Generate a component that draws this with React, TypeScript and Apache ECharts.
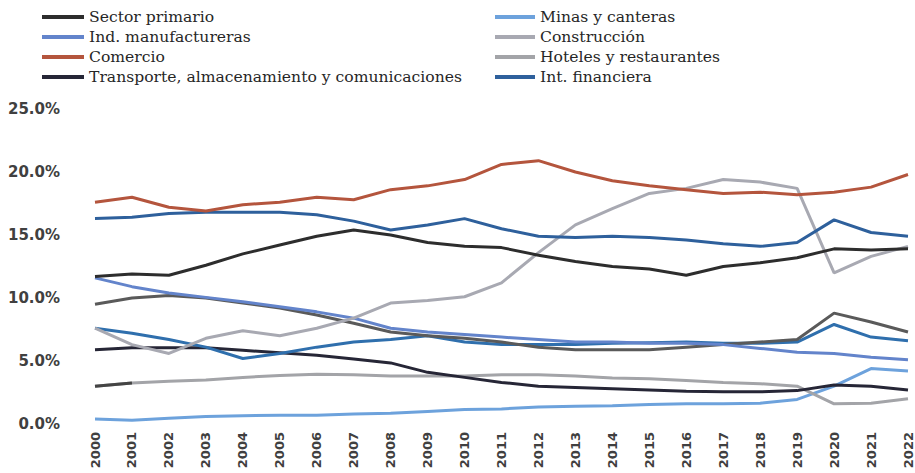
import React, { useEffect, useRef } from 'react';
import * as echarts from 'echarts';

const years = ['2000', '2001', '2002', '2003', '2004', '2005', '2006', '2007', '2008', '2009', '2010', '2011', '2012', '2013', '2014', '2015', '2016', '2017', '2018', '2019', '2020', '2021', '2022'];

const sectorPrimario = [11.7, 11.9, 11.8, 12.6, 13.5, 14.2, 14.9, 15.4, 15.0, 14.4, 14.1, 14.0, 13.4, 12.9, 12.5, 12.3, 11.8, 12.5, 12.8, 13.2, 13.9, 13.8, 13.9];
const minasCanteras = [0.4, 0.3, 0.45, 0.6, 0.65, 0.7, 0.7, 0.8, 0.85, 1.0, 1.15, 1.2, 1.35, 1.4, 1.45, 1.55, 1.6, 1.6, 1.65, 1.95, 3.0, 4.4, 4.2];
const indManufactureras = [11.6, 10.9, 10.4, 10.05, 9.7, 9.3, 8.9, 8.4, 7.6, 7.3, 7.1, 6.9, 6.7, 6.5, 6.5, 6.4, 6.4, 6.3, 6.0, 5.7, 5.6, 5.3, 5.1];
const construccion = [7.6, 6.3, 5.6, 6.8, 7.4, 7.0, 7.6, 8.4, 9.6, 9.8, 10.1, 11.2, 13.6, 15.8, 17.1, 18.3, 18.7, 19.4, 19.2, 18.7, 12.0, 13.3, 14.1];
const comercio = [17.6, 18.0, 17.2, 16.9, 17.4, 17.6, 18.0, 17.8, 18.6, 18.9, 19.4, 20.6, 20.9, 20.0, 19.3, 18.9, 18.6, 18.3, 18.4, 18.2, 18.4, 18.8, 19.8];
const hoteles = [3.0, 3.25, 3.4, 3.5, 3.7, 3.85, 3.95, 3.9, 3.8, 3.8, 3.8, 3.9, 3.9, 3.8, 3.65, 3.6, 3.45, 3.3, 3.2, 3.0, 1.6, 1.65, 2.0];
const hotelesInicio = [3.0, 3.25, null, null, null, null, null, null, null, null, null, null, null, null, null, null, null, null, null, null, null, null, null];
const transporte = [5.9, 6.05, 6.05, 6.05, 5.85, 5.65, 5.45, 5.15, 4.85, 4.1, 3.7, 3.3, 3.0, 2.9, 2.8, 2.7, 2.6, 2.55, 2.55, 2.65, 3.1, 3.0, 2.7];
const intFinanciera = [16.3, 16.4, 16.7, 16.8, 16.8, 16.8, 16.6, 16.1, 15.4, 15.8, 16.3, 15.5, 14.9, 14.8, 14.9, 14.8, 14.6, 14.3, 14.1, 14.4, 16.2, 15.2, 14.9];
const serieGris = [9.5, 10.0, 10.2, 10.0, 9.6, 9.2, 8.65, 8.0, 7.3, 7.0, 6.8, 6.5, 6.1, 5.9, 5.9, 5.9, 6.1, 6.3, 6.5, 6.7, 8.8, 8.1, 7.3];
const serieAzul = [7.6, 7.2, 6.7, 6.1, 5.2, 5.6, 6.1, 6.5, 6.7, 7.0, 6.5, 6.3, 6.3, 6.3, 6.4, 6.45, 6.5, 6.4, 6.4, 6.5, 7.9, 6.9, 6.6];

const legendLeft = ['Sector primario', 'Ind. manufactureras', 'Comercio', 'Transporte, almacenamiento y comunicaciones'];
const legendRight = ['Minas y canteras', 'Construcción', 'Hoteles y restaurantes', 'Int. financiera'];

const yTicks = [0, 5, 10, 15, 20, 25];

export default function App() {
  const ref = useRef<HTMLDivElement>(null);
  useEffect(() => {
    document.body.style.margin = '0';
    const chart = echarts.init(ref.current!, null, { renderer: 'svg' });
    const line = (name: string, data: (number | null)[], color: string, z = 2) => ({
      name,
      type: 'line',
      data,
      symbol: 'none',
      showSymbol: false,
      z,
      lineStyle: { color, width: 3 },
      itemStyle: { color },
    });
    const legendText = {
      fontFamily: 'DejaVu Serif',
      fontSize: 15.6,
      color: '#262626',
      lineHeight: 20,
    };
    chart.setOption({
      animation: false,
      backgroundColor: '#fff',
      legend: [
        {
          data: legendLeft,
          orient: 'vertical',
          left: 42,
          top: 7,
          padding: 0,
          itemGap: 0,
          itemWidth: 42,
          itemHeight: 4,
          icon: 'rect',
          textStyle: legendText,
        },
        {
          data: legendRight,
          orient: 'vertical',
          left: 495,
          top: 7,
          padding: 0,
          itemGap: 0,
          itemWidth: 40,
          itemHeight: 4,
          icon: 'rect',
          textStyle: legendText,
        },
      ],
      grid: { left: 95, right: 7, top: 109, bottom: 49 },
      xAxis: {
        type: 'category',
        data: years,
        boundaryGap: false,
        axisLine: { show: false },
        axisTick: { show: false },
        axisLabel: {
          rotate: 90,
          margin: 8,
          interval: 0,
          fontFamily: 'DejaVu Sans',
          fontWeight: 'bold',
          fontSize: 13,
          color: '#404040',
        },
      },
      yAxis: {
        type: 'value',
        min: yTicks[0],
        max: yTicks[yTicks.length - 1],
        interval: 5,
        splitLine: { show: false },
        axisLine: { show: false },
        axisTick: { show: false },
        axisLabel: {
          margin: 35,
          fontFamily: 'DejaVu Sans',
          fontWeight: 'bold',
          fontSize: 15,
          color: '#404040',
          formatter: (v: number) => v.toFixed(1) + '%',
        },
      },
      series: [
        line('Minas y canteras', minasCanteras, '#6DA2DC'),
        line('Hoteles y restaurantes', hoteles, '#A3A4A8'),
        line('hotelesInicio', hotelesInicio, '#444444', 3),
        line('Transporte, almacenamiento y comunicaciones', transporte, '#262636'),
        line('serieAzul', serieAzul, '#2F6FAD'),
        line('serieGris', serieGris, '#5A5A5A'),
        line('Ind. manufactureras', indManufactureras, '#6384CB'),
        line('Construcción', construccion, '#A8A9B2'),
        line('Sector primario', sectorPrimario, '#2D2D2D'),
        line('Int. financiera', intFinanciera, '#2E609C'),
        line('Comercio', comercio, '#B4553D'),
      ],
    });
    return () => chart.dispose();
  }, []);
  return <div ref={ref} style={{ width: 915, height: 473 }} />;
}
